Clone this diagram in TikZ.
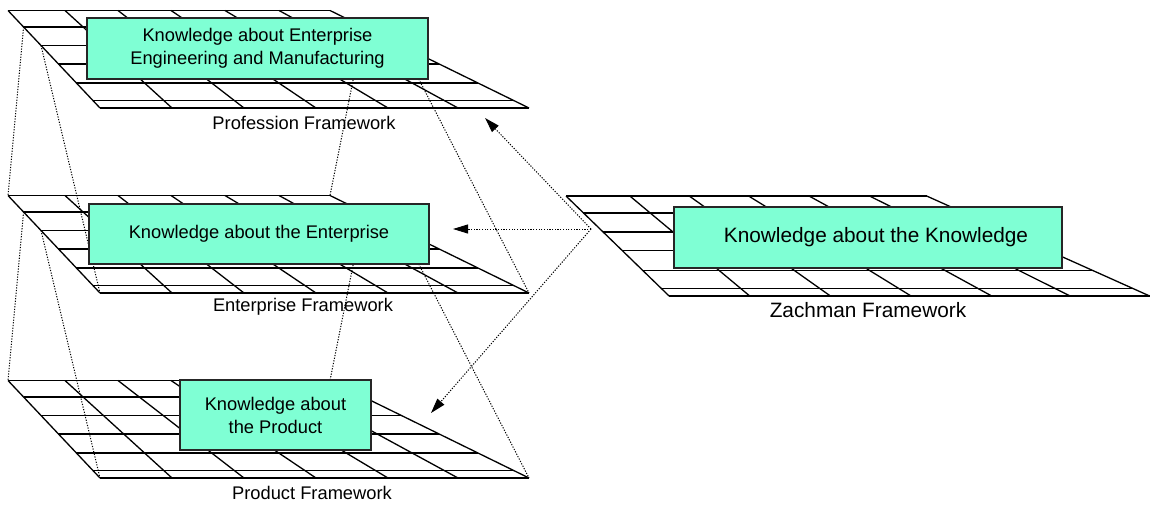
\documentclass[tikz,border=0pt]{standalone}
\usepackage{fontspec}
\setmainfont{Liberation Sans}
\usetikzlibrary{arrows.meta}

\definecolor{kfill}{RGB}{127,255,212}

\tikzset{
  gridline/.style={line width=1.3pt, black},
  proj/.style={line width=1pt, black, dash pattern=on 1.2pt off 1.5pt},
  kbox/.style={draw=black!85, line width=1.3pt, fill=kfill, inner sep=0pt,
               align=center, font=\fontsize{18.3}{23}\selectfont},
  zbox/.style={kbox, font=\fontsize{20.8}{25}\selectfont},
  flabel/.style={font=\fontsize{18.3}{22}\selectfont, inner sep=0pt},
  zlabel/.style={font=\fontsize{20.8}{25}\selectfont, inner sep=0pt},
  link/.style={proj, -{Triangle[length=15pt,width=9pt]}},
}

% A framework grid in perspective (6 columns, 6 rows plus a thin footer row).
% #1 = name prefix for the corner and row coordinates.
\newcommand{\drawframegrid}[1]{%
  \foreach \tp/\bt in {0/92, 57/164, 110/236, 163/308, 217/380, 271/450, 322/521}
    \draw[gridline] (\tp,0) -- (\bt,97.5);
  \foreach \rw in {0,16.5,35,53.5,72.5,90,97.5}
    \draw[gridline] ({0.94359*\rw},\rw) -- ({322+2.04103*\rw},\rw);
  \coordinate (#1-tl) at (0,0);
  \coordinate (#1-tr) at (322,0);
  \coordinate (#1-bl) at (92,97.5);
  \coordinate (#1-br) at (521,97.5);
  \coordinate (#1-l1) at (15.57,16.5);
  \coordinate (#1-l2) at (33.03,35);
  \coordinate (#1-r1) at (355.68,16.5);
  \coordinate (#1-r2) at (393.44,35);
}

\begin{document}
\begin{tikzpicture}[x=1pt, y=-1pt]
  \fill[white] (0,0) rectangle (1151,504);
  \useasboundingbox (0,0) rectangle (1151,504);

  % grids
  \begin{scope}[shift={(8,10.5)}]   \drawframegrid{prof} \end{scope}
  \begin{scope}[shift={(8,195.5)}]  \drawframegrid{ent}  \end{scope}
  \begin{scope}[shift={(8,380.5)}]  \drawframegrid{prod} \end{scope}
  \begin{scope}[shift={(566,196)}, xscale=1.12, yscale=1.025] \drawframegrid{zach} \end{scope}

  % one row of a framework opens out into the next framework
  \draw[proj] (prof-l1) -- (ent-tl);
  \draw[proj] (prof-l2) -- (ent-bl);
  \draw[proj] (prof-r1) -- (ent-tr);
  \draw[proj] (prof-r2) -- (ent-br);
  \draw[proj] (ent-l1) -- (prod-tl);
  \draw[proj] (ent-l2) -- (prod-bl);
  \draw[proj] (ent-r1) -- (prod-tr);
  \draw[proj] (ent-r2) -- (prod-br);

  % knowledge boxes
  \node[kbox, minimum width=341pt, minimum height=61pt] (kprof) at (257.5,48.5)
    {Knowledge about Enterprise\\Engineering and Manufacturing};
  \node[kbox, minimum width=340pt, minimum height=60pt] (kent) at (259,234)
    {Knowledge about the Enterprise};
  \node[kbox, minimum width=191pt, minimum height=70pt] (kprod) at (275.5,415)
    {Knowledge about\\the Product};
  \node[zbox, minimum width=388pt, minimum height=61pt] (kzach) at (868,237.5)
    {\hspace*{16pt}Knowledge about the Knowledge};

  % framework names
  \node[flabel] (lprof) at (304,123) {Profession Framework};
  \node[flabel] (lent)  at (303,307) {Enterprise Framework};
  \node[flabel] (lprod) at (312,493) {Product Framework};
  \node[zlabel] (lzach) at (868,310) {Zachman Framework};

  % the Zachman framework feeds the three others
  \coordinate (src) at (591,229);
  \coordinate (tprof) at (485,118);
  \coordinate (tent)  at (453,229);
  \coordinate (tprod) at (431,413);
  \draw[link] (src) -- (tprof);
  \draw[link] (src) -- (tent);
  \draw[link] (src) -- (tprod);
\end{tikzpicture}
\end{document}
